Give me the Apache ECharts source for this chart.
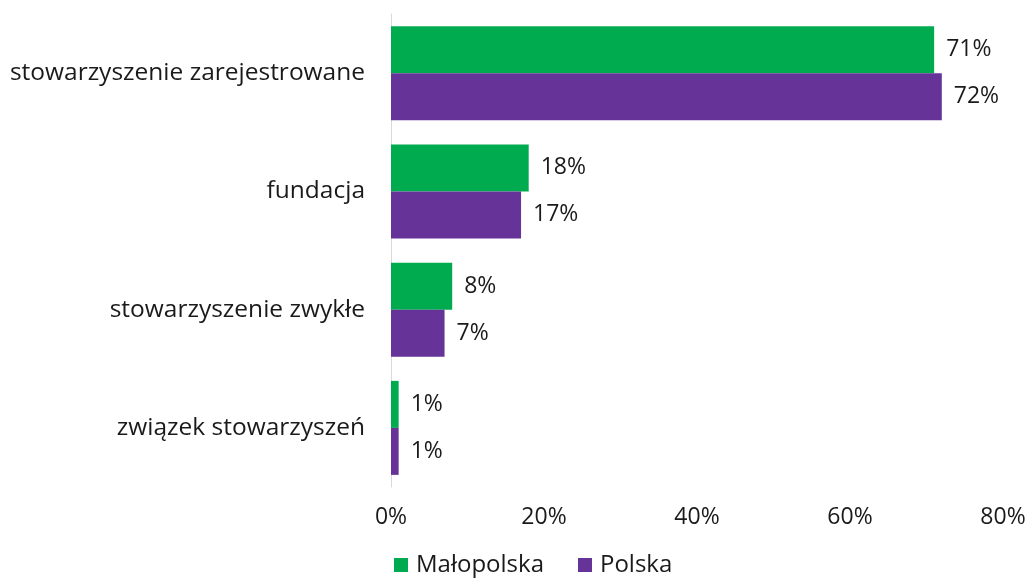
<!DOCTYPE html>
<html>
<head>
<meta charset="utf-8">
<script src="https://cdn.jsdelivr.net/npm/echarts@6/dist/echarts.min.js"></script>
<style>
html, body { margin: 0; padding: 0; background: #fff; }
#chart { width: 1029px; height: 578px; }
</style>
</head>
<body>
<div id="chart"></div>
<script>
var categories = ['stowarzyszenie zarejestrowane', 'fundacja', 'stowarzyszenie zwykłe', 'związek stowarzyszeń'];
var malopolska = [71, 18, 8, 1];
var polska = [72, 17, 7, 1];
var xTicks = [0, 20, 40, 60, 80];

var fontName = 'Open Sans';
var myChart = echarts.init(document.getElementById('chart'));

var option = {
    backgroundColor: '#fff',
    textStyle: { fontFamily: fontName },
    animation: false,
    legend: {
        data: ['Małopolska', 'Polska'],
        bottom: -4,
        left: 389,
        itemWidth: 14,
        itemHeight: 14,
        itemGap: 34,
        icon: 'rect',
        textStyle: { fontSize: 24, color: '#1a1a1a', fontFamily: fontName, padding: [0, 0, 0, 3] }
    },
    grid: { left: 391, right: 26, top: 14, bottom: 91, containLabel: false },
    xAxis: {
        type: 'value',
        min: xTicks[0],
        max: xTicks[xTicks.length - 1],
        interval: 20,
        axisLine: { show: false },
        axisTick: { show: false },
        splitLine: { show: false },
        axisLabel: {
            formatter: '{value}%',
            fontSize: 23,
            color: '#1a1a1a',
            margin: 19,
            fontFamily: fontName
        }
    },
    yAxis: {
        type: 'category',
        inverse: true,
        data: categories,
        axisLine: { show: true, lineStyle: { color: '#d9d9d9', width: 1 } },
        axisTick: { show: false },
        axisLabel: { fontSize: 24.5, color: '#1a1a1a', margin: 26, fontFamily: fontName }
    },
    series: [
        {
            name: 'Małopolska',
            type: 'bar',
            data: malopolska,
            barWidth: 47,
            barGap: '0%',
            itemStyle: { color: '#00ab4f' },
            label: {
                show: true, position: 'right', distance: 12,
                formatter: '{c}%', fontSize: 23, color: '#1a1a1a', fontFamily: fontName
            }
        },
        {
            name: 'Polska',
            type: 'bar',
            data: polska,
            barWidth: 47,
            barGap: '0%',
            itemStyle: { color: '#663399' },
            label: {
                show: true, position: 'right', distance: 12,
                formatter: '{c}%', fontSize: 23, color: '#1a1a1a', fontFamily: fontName
            }
        }
    ]
};
myChart.setOption(option);
</script>
</body>
</html>
